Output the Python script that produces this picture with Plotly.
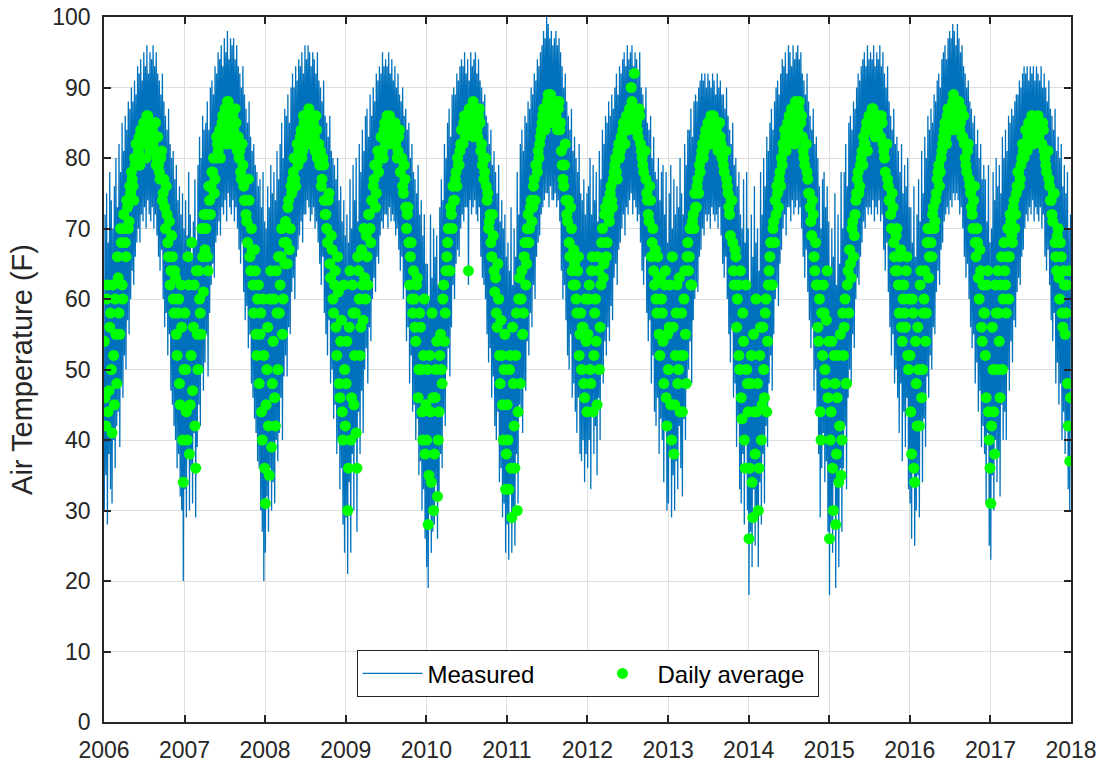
import pandas as pd
import plotly.graph_objects as go

# ---------------- data (readings estimated from the chart) ----------------
YEARS = list(range(2006, 2018))
YEAR_TICKS = [str(y) for y in range(2006, 2019)]

# daily-average temperature (F): two readings per week (set A and set B), 52 weeks per year
avg_2006 = [54, 42, 62, 47, 58, 41, 52, 60, 48, 63, 55, 68, 60, 70, 66, 73, 71,
            75, 77, 74, 79, 80, 81, 79, 83, 82, 84, 80, 86, 83, 85, 84, 81, 85, 80,
            79, 77, 81, 75, 73, 76, 68, 71, 64, 66, 58, 63, 52, 60, 45, 56, 34]
avg_2007 = [58, 44, 66, 38, 52, 47, 62, 36, 55, 64, 58, 70, 61, 67, 72, 64, 74,
            76, 78, 75, 80, 82, 83, 80, 85, 84, 87, 82, 88, 85, 84, 86, 83, 85, 81,
            80, 78, 82, 76, 74, 71, 77, 66, 70, 62, 67, 55, 60, 48, 58, 40, 52]
avg_2008 = [31, 50, 42, 60, 39, 54, 46, 64, 50, 58, 66, 55, 68, 71, 65, 74, 70,
            75, 78, 77, 80, 79, 82, 84, 81, 85, 83, 86, 87, 84, 82, 85, 81, 84, 80,
            79, 76, 80, 74, 72, 68, 75, 63, 67, 58, 64, 52, 61, 46, 57, 40, 50]
avg_2009 = [48, 30, 56, 40, 62, 45, 58, 36, 64, 52, 67, 57, 63, 69, 62, 72, 68,
            74, 77, 73, 79, 78, 81, 83, 80, 85, 84, 82, 86, 83, 85, 84, 82, 80, 83,
            78, 80, 75, 77, 70, 73, 62, 68, 58, 60, 54, 63, 50, 56, 44, 52, 38]
avg_2010 = [40, 28, 52, 34, 46, 38, 50, 32, 44, 55, 48, 62, 58, 66, 70, 64, 72,
            76, 74, 78, 80, 79, 82, 84, 85, 83, 86, 64, 87, 84, 88, 86, 85, 83, 87,
            81, 79, 77, 80, 74, 70, 72, 66, 69, 61, 58, 65, 52, 57, 45, 50, 33]
avg_2011 = [45, 33, 52, 29, 48, 36, 58, 44, 63, 60, 55, 66, 62, 70, 68, 73, 71,
            76, 74, 79, 81, 82, 84, 86, 85, 87, 88, 86, 89, 87, 86, 88, 85, 87, 84,
            81, 77, 79, 74, 71, 68, 73, 64, 67, 62, 58, 66, 55, 50, 56, 46, 54]
avg_2012 = [55, 62, 48, 66, 52, 60, 45, 64, 56, 68, 63, 72, 66, 74, 71, 76, 73,
            78, 80, 77, 82, 81, 83, 85, 82, 86, 84, 87, 90, 85, 92, 86, 84, 87, 82,
            80, 78, 81, 75, 72, 76, 66, 70, 62, 60, 66, 55, 63, 58, 48, 64, 42]
avg_2013 = [50, 62, 40, 56, 45, 58, 48, 63, 52, 44, 60, 55, 66, 64, 70, 62, 72,
            75, 73, 77, 79, 80, 82, 81, 84, 83, 85, 82, 84, 86, 83, 84, 81, 85, 82,
            80, 78, 81, 76, 73, 69, 74, 64, 67, 56, 62, 50, 46, 58, 40, 62, 48]
avg_2014 = [26, 48, 34, 55, 38, 44, 30, 52, 40, 56, 46, 60, 54, 64, 68, 62, 71,
            74, 76, 73, 78, 80, 82, 84, 81, 85, 86, 83, 87, 84, 88, 85, 87, 83, 86,
            81, 79, 82, 77, 75, 71, 74, 66, 68, 62, 54, 44, 58, 62, 50, 57, 46]
avg_2015 = [26, 44, 36, 52, 28, 46, 34, 55, 40, 52, 60, 48, 64, 67, 63, 71, 69,
            74, 77, 75, 79, 81, 83, 82, 85, 84, 86, 84, 87, 85, 86, 84, 86, 83, 85,
            81, 78, 82, 76, 74, 70, 73, 66, 69, 64, 58, 67, 54, 62, 56, 66, 50]
avg_2016 = [52, 38, 58, 34, 48, 56, 42, 64, 50, 60, 54, 68, 63, 70, 66, 73, 71,
            75, 78, 76, 80, 82, 84, 83, 86, 85, 87, 85, 89, 86, 88, 86, 84, 87, 83,
            82, 79, 81, 77, 75, 72, 74, 68, 70, 63, 67, 56, 62, 58, 46, 64, 40]
avg_2017 = [31, 56, 44, 62, 50, 58, 46, 66, 60, 64, 58, 70, 66, 71, 68, 74, 72,
            76, 78, 77, 80, 81, 82, 84, 83, 85, 84, 86, 83, 85, 84, 83, 85, 82, 84,
            80, 78, 81, 76, 74, 71, 75, 66, 69, 63, 68, 58, 64, 55, 62, 42, 37]

avgb_2006 = [46, 60, 44, 56, 50, 62, 45, 55, 66, 58, 70, 62, 72, 68, 74, 70, 76,
             78, 76, 80, 82, 79, 83, 84, 80, 85, 82, 86, 84, 81, 83, 82, 85, 79, 83,
             78, 80, 74, 77, 70, 72, 66, 62, 69, 60, 64, 55, 58, 48, 62, 40, 50]
avgb_2007 = [50, 40, 62, 45, 68, 56, 42, 64, 50, 60, 55, 66, 72, 70, 66, 76, 72,
             78, 80, 77, 83, 81, 84, 82, 86, 83, 85, 88, 83, 86, 82, 84, 87, 82, 83,
             81, 77, 79, 74, 72, 68, 74, 64, 67, 58, 64, 52, 62, 55, 44, 60, 36]
avgb_2008 = [45, 56, 35, 64, 48, 60, 42, 58, 66, 62, 70, 60, 65, 68, 73, 67, 76,
             77, 80, 76, 82, 81, 83, 80, 86, 84, 85, 82, 84, 86, 83, 83, 86, 80, 82,
             81, 77, 79, 72, 70, 74, 65, 69, 60, 62, 56, 66, 48, 54, 44, 62, 42]
avgb_2009 = [54, 36, 64, 46, 58, 52, 41, 66, 60, 56, 62, 70, 60, 66, 72, 70, 74,
             76, 79, 75, 81, 80, 83, 81, 84, 82, 86, 83, 85, 84, 82, 85, 83, 81, 84,
             80, 76, 79, 73, 72, 68, 66, 60, 64, 56, 62, 46, 58, 50, 40, 60, 45]
avgb_2010 = [50, 35, 44, 58, 30, 46, 54, 40, 52, 50, 60, 54, 64, 68, 64, 73, 70,
             74, 77, 76, 79, 81, 84, 82, 86, 85, 84, 87, 85, 86, 83, 87, 84, 86, 85,
             82, 80, 78, 76, 75, 71, 68, 72, 64, 63, 56, 60, 48, 52, 40, 55, 38]
avgb_2011 = [40, 50, 36, 56, 42, 52, 30, 60, 48, 64, 58, 68, 65, 72, 70, 74, 73,
             77, 79, 78, 80, 83, 85, 87, 84, 86, 89, 85, 88, 86, 87, 86, 84, 88, 85,
             79, 76, 82, 72, 74, 66, 70, 62, 65, 60, 64, 52, 58, 56, 48, 60, 44]
avgb_2012 = [60, 50, 64, 44, 58, 54, 66, 50, 62, 70, 65, 73, 68, 72, 75, 74, 77,
             79, 78, 81, 80, 83, 84, 82, 85, 84, 86, 85, 88, 86, 84, 85, 83, 86, 81,
             79, 81, 77, 74, 71, 74, 68, 64, 67, 58, 63, 52, 60, 54, 62, 46, 55]
avgb_2013 = [56, 45, 66, 38, 52, 62, 50, 44, 58, 52, 64, 48, 68, 66, 62, 71, 70,
             73, 76, 75, 78, 81, 80, 83, 82, 85, 83, 86, 84, 82, 85, 82, 85, 83, 80,
             79, 81, 77, 75, 72, 74, 68, 62, 66, 60, 52, 64, 43, 54, 36, 50, 44]
avgb_2014 = [36, 52, 29, 44, 60, 48, 36, 56, 45, 50, 58, 44, 62, 66, 62, 70, 68,
             72, 75, 77, 76, 79, 81, 83, 82, 84, 84, 87, 85, 82, 86, 84, 88, 85, 83,
             80, 82, 78, 75, 73, 69, 72, 64, 62, 56, 60, 40, 52, 58, 48, 64, 54]
avgb_2015 = [40, 54, 30, 48, 38, 52, 42, 35, 58, 56, 48, 62, 58, 65, 70, 66, 72,
             75, 78, 76, 80, 79, 82, 84, 81, 86, 84, 87, 85, 83, 86, 85, 83, 86, 82,
             80, 82, 77, 74, 72, 75, 68, 64, 70, 62, 66, 56, 60, 58, 64, 52, 60]
avgb_2016 = [44, 60, 36, 54, 42, 50, 62, 46, 58, 64, 58, 70, 66, 68, 72, 70, 74,
             77, 79, 78, 81, 83, 85, 82, 87, 84, 86, 88, 84, 87, 85, 88, 85, 83, 86,
             80, 78, 82, 76, 73, 70, 76, 66, 68, 60, 64, 54, 58, 52, 62, 44, 36]
avgb_2017 = [42, 50, 38, 58, 64, 54, 62, 50, 68, 62, 66, 60, 72, 69, 73, 70, 75,
             78, 76, 79, 82, 80, 84, 81, 85, 83, 86, 82, 85, 83, 86, 84, 82, 85, 81,
             79, 81, 77, 74, 72, 75, 68, 64, 70, 60, 66, 56, 62, 58, 48, 64, 46]

# measured (hourly) temperature: weekly high and low readings (F)
hi_2006 = [72, 75, 68, 78, 74, 70, 76, 80, 73, 82, 78, 85, 81, 86, 84, 88, 87,
           90, 88, 91, 89, 93, 92, 94, 91, 95, 93, 96, 92, 95, 94, 96, 93, 95, 92,
           91, 89, 92, 88, 86, 84, 87, 82, 80, 81, 77, 79, 74, 76, 72, 75, 70]
lo_2006 = [30, 35, 28, 38, 33, 31, 40, 36, 42, 44, 39, 48, 46, 52, 50, 57, 55,
           60, 64, 62, 66, 68, 70, 68, 72, 71, 73, 70, 74, 72, 71, 73, 70, 72, 69,
           66, 64, 67, 60, 56, 58, 52, 55, 47, 45, 42, 40, 36, 38, 32, 30, 20]
hi_2007 = [74, 69, 78, 72, 66, 71, 77, 68, 79, 83, 80, 86, 84, 85, 88, 84, 90,
           91, 89, 93, 92, 95, 94, 96, 93, 97, 95, 98, 94, 97, 96, 97, 94, 96, 93,
           92, 90, 93, 89, 87, 85, 88, 83, 81, 82, 79, 78, 76, 77, 73, 78, 71]
lo_2007 = [33, 29, 38, 30, 36, 31, 41, 29, 39, 45, 42, 50, 47, 51, 55, 49, 58,
           62, 65, 63, 68, 69, 71, 69, 73, 72, 74, 71, 75, 73, 72, 74, 71, 73, 70,
           67, 65, 68, 61, 57, 59, 53, 55, 48, 46, 43, 41, 37, 36, 30, 27, 20]
hi_2008 = [70, 76, 73, 79, 75, 78, 74, 81, 77, 82, 85, 80, 87, 86, 89, 85, 90,
           92, 90, 93, 91, 94, 93, 95, 92, 96, 94, 96, 95, 93, 95, 94, 92, 95, 91,
           90, 88, 91, 86, 85, 83, 86, 81, 80, 79, 77, 80, 74, 76, 71, 74, 69]
lo_2008 = [24, 32, 27, 36, 30, 34, 31, 40, 37, 41, 46, 40, 49, 52, 49, 56, 55,
           61, 63, 60, 66, 67, 69, 71, 68, 72, 72, 74, 73, 71, 72, 73, 70, 71, 68,
           65, 62, 66, 58, 55, 52, 57, 48, 50, 43, 45, 38, 40, 33, 36, 28, 24]
hi_2009 = [72, 68, 77, 70, 79, 74, 80, 71, 82, 78, 84, 81, 86, 87, 83, 89, 86,
           90, 88, 92, 91, 93, 92, 95, 93, 94, 93, 95, 92, 94, 91, 93, 90, 92, 89,
           88, 90, 86, 87, 84, 85, 80, 82, 78, 77, 75, 79, 72, 74, 69, 72, 65]
lo_2009 = [29, 21, 34, 24, 38, 30, 40, 27, 44, 38, 47, 41, 50, 53, 48, 56, 54,
           60, 63, 61, 66, 65, 69, 71, 70, 72, 72, 70, 73, 71, 72, 71, 69, 70, 67,
           64, 66, 60, 62, 54, 56, 48, 52, 44, 45, 40, 43, 35, 37, 30, 33, 26]
hi_2010 = [65, 60, 72, 63, 70, 66, 69, 62, 73, 77, 74, 82, 80, 85, 87, 83, 89,
           90, 89, 92, 91, 93, 94, 93, 95, 92, 94, 91, 95, 93, 94, 95, 92, 94, 91,
           90, 88, 89, 86, 85, 82, 84, 79, 81, 78, 75, 79, 71, 74, 70, 72, 66]
lo_2010 = [22, 19, 30, 24, 27, 28, 34, 26, 32, 38, 36, 44, 42, 50, 53, 49, 56,
           62, 60, 65, 67, 66, 70, 72, 71, 73, 73, 62, 74, 72, 73, 74, 72, 71, 73,
           66, 63, 62, 60, 55, 51, 53, 46, 49, 42, 40, 44, 34, 36, 29, 31, 24]
hi_2011 = [68, 64, 73, 62, 70, 66, 78, 72, 82, 84, 81, 86, 85, 88, 87, 90, 89,
           92, 91, 94, 93, 95, 96, 98, 97, 100, 99, 97, 98, 96, 97, 98, 96, 97, 95,
           93, 90, 92, 88, 86, 84, 87, 81, 83, 80, 78, 82, 75, 74, 77, 72, 75]
lo_2011 = [28, 23, 33, 24, 30, 25, 38, 31, 45, 44, 41, 48, 47, 54, 52, 58, 56,
           62, 60, 66, 68, 69, 72, 73, 74, 75, 75, 73, 76, 74, 74, 75, 73, 74, 71,
           64, 60, 62, 57, 52, 50, 55, 46, 48, 44, 41, 46, 38, 37, 40, 34, 38]
hi_2012 = [76, 80, 72, 79, 74, 78, 71, 81, 77, 84, 82, 86, 85, 88, 86, 89, 87,
           90, 92, 89, 93, 92, 94, 95, 93, 96, 94, 95, 96, 93, 95, 94, 92, 95, 90,
           89, 87, 90, 85, 84, 86, 80, 83, 78, 77, 80, 74, 78, 79, 72, 78, 68]
lo_2012 = [36, 40, 33, 44, 38, 42, 35, 46, 40, 50, 48, 54, 52, 56, 54, 59, 57,
           63, 65, 62, 67, 68, 70, 72, 69, 73, 72, 74, 75, 72, 74, 73, 71, 72, 68,
           64, 62, 66, 58, 54, 57, 48, 52, 44, 42, 46, 38, 43, 40, 34, 42, 30]
hi_2013 = [75, 79, 70, 77, 72, 76, 73, 80, 75, 72, 82, 79, 84, 84, 87, 83, 88,
           89, 88, 90, 91, 92, 91, 92, 90, 92, 91, 90, 92, 91, 89, 92, 90, 91, 89,
           89, 87, 90, 86, 84, 82, 85, 79, 80, 76, 78, 72, 70, 77, 68, 78, 70]
lo_2013 = [31, 38, 29, 35, 30, 37, 33, 42, 36, 32, 43, 40, 48, 50, 54, 48, 57,
           60, 62, 61, 66, 67, 70, 69, 72, 71, 72, 70, 73, 72, 71, 72, 70, 73, 69,
           65, 63, 66, 60, 55, 51, 56, 46, 48, 39, 43, 33, 31, 38, 28, 40, 30]
hi_2014 = [62, 72, 66, 76, 68, 70, 64, 78, 72, 80, 76, 83, 81, 85, 87, 84, 88,
           90, 91, 89, 92, 94, 93, 95, 92, 96, 95, 93, 96, 94, 95, 96, 94, 95, 92,
           91, 89, 92, 88, 86, 84, 87, 82, 83, 80, 76, 70, 77, 78, 73, 76, 71]
lo_2014 = [18, 27, 22, 33, 25, 29, 22, 34, 28, 38, 31, 42, 39, 48, 52, 47, 55,
           60, 62, 59, 65, 67, 70, 72, 69, 73, 73, 71, 74, 72, 73, 74, 72, 73, 70,
           66, 63, 67, 61, 57, 53, 56, 47, 50, 44, 38, 29, 36, 41, 34, 37, 27]
hi_2015 = [64, 70, 66, 75, 62, 72, 65, 78, 70, 78, 82, 76, 85, 86, 84, 88, 87,
           90, 92, 91, 93, 94, 95, 93, 96, 94, 95, 94, 96, 93, 95, 94, 96, 93, 95,
           92, 90, 93, 88, 86, 84, 87, 82, 83, 81, 78, 82, 75, 79, 76, 80, 73]
lo_2015 = [18, 28, 24, 34, 19, 30, 22, 36, 27, 36, 42, 33, 46, 50, 48, 55, 53,
           60, 63, 62, 66, 68, 71, 70, 73, 72, 73, 72, 74, 71, 73, 72, 74, 71, 72,
           67, 64, 68, 61, 56, 52, 55, 48, 50, 46, 41, 48, 37, 44, 39, 46, 33]
hi_2016 = [73, 68, 76, 66, 72, 77, 71, 81, 75, 83, 80, 86, 84, 87, 85, 89, 88,
           91, 92, 90, 94, 95, 96, 94, 97, 98, 97, 99, 98, 96, 99, 97, 95, 96, 93,
           92, 90, 91, 88, 87, 85, 86, 82, 84, 80, 82, 77, 79, 77, 71, 79, 68]
lo_2016 = [31, 26, 36, 25, 30, 35, 29, 42, 34, 43, 39, 49, 46, 52, 50, 56, 55,
           61, 64, 62, 67, 68, 71, 72, 73, 72, 74, 73, 75, 74, 75, 74, 72, 73, 70,
           66, 63, 65, 60, 56, 53, 55, 48, 51, 44, 47, 39, 42, 38, 31, 41, 25]
hi_2017 = [70, 78, 74, 80, 76, 79, 75, 83, 80, 84, 81, 86, 85, 87, 86, 88, 89,
           89, 91, 90, 92, 93, 92, 93, 91, 93, 92, 93, 91, 93, 92, 91, 93, 90, 92,
           90, 88, 91, 87, 86, 84, 87, 81, 83, 80, 82, 76, 79, 75, 78, 70, 72]
lo_2017 = [23, 35, 30, 40, 34, 38, 32, 45, 40, 44, 40, 50, 47, 54, 51, 57, 56,
           61, 63, 62, 66, 67, 70, 72, 71, 73, 72, 74, 71, 73, 72, 71, 73, 70, 72,
           66, 64, 67, 62, 57, 54, 58, 48, 51, 45, 48, 40, 44, 38, 42, 33, 30]

daily_avg_a = dict(zip(YEARS, [avg_2006, avg_2007, avg_2008, avg_2009, avg_2010, avg_2011,
                               avg_2012, avg_2013, avg_2014, avg_2015, avg_2016, avg_2017]))
daily_avg_b = dict(zip(YEARS, [avgb_2006, avgb_2007, avgb_2008, avgb_2009, avgb_2010, avgb_2011,
                               avgb_2012, avgb_2013, avgb_2014, avgb_2015, avgb_2016, avgb_2017]))
meas_hi = dict(zip(YEARS, [hi_2006, hi_2007, hi_2008, hi_2009, hi_2010, hi_2011,
                           hi_2012, hi_2013, hi_2014, hi_2015, hi_2016, hi_2017]))
meas_lo = dict(zip(YEARS, [lo_2006, lo_2007, lo_2008, lo_2009, lo_2010, lo_2011,
                           lo_2012, lo_2013, lo_2014, lo_2015, lo_2016, lo_2017]))

# ---------------- build series on a date axis ----------------
avg_x, avg_y, meas_x, meas_y = [], [], [], []
for yr in YEARS:
    start = pd.Timestamp(f"{yr}-01-01")
    ndays = (pd.Timestamp(f"{yr + 1}-01-01") - start).days
    a, b = daily_avg_a[yr], daily_avg_b[yr]
    h, l = meas_hi[yr], meas_lo[yr]
    n = len(a)
    step = ndays / n
    for i in range(n):
        avg_x.append(start + pd.Timedelta(days=(i + 0.2) * step))
        avg_y.append(a[i])
        avg_x.append(start + pd.Timedelta(days=(i + 0.7) * step))
        avg_y.append(b[i])
        meas_x.append(start + pd.Timedelta(days=(i + 0.2) * step))
        meas_y.append(l[i])
        meas_x.append(start + pd.Timedelta(days=(i + 0.7) * step))
        meas_y.append(h[i])

FONT = "Arial, Liberation Sans, Helvetica, sans-serif"
DARK = "#262626"
GRID = "#dedede"

fig = go.Figure()
fig.add_trace(go.Scatter(x=meas_x, y=meas_y, mode="lines", name="Measured",
                         line=dict(color="#0072BD", width=1.3)))
fig.add_trace(go.Scatter(x=avg_x, y=avg_y, mode="markers", name="Daily average",
                         marker=dict(color="#00FF00", size=11, line=dict(width=0))))

fig.update_layout(
    width=1107, height=767,
    margin=dict(l=104, r=36, t=17, b=45),
    paper_bgcolor="white", plot_bgcolor="white",
    font=dict(family=FONT, size=23, color=DARK),
    showlegend=True,
    legend=dict(orientation="h", x=0.5, xanchor="center", y=0.035, yanchor="bottom",
                bgcolor="white", bordercolor=DARK, borderwidth=1,
                font=dict(family=FONT, size=24, color="#000000"),
                itemwidth=60, entrywidth=155),
)
fig.update_xaxes(
    type="date", range=["2006-01-01", "2018-01-01"],
    tickvals=[pd.Timestamp(f"{t}-01-01") for t in YEAR_TICKS], ticktext=YEAR_TICKS,
    showgrid=True, gridcolor=GRID, gridwidth=1,
    showline=True, linecolor=DARK, linewidth=1.5, mirror="ticks",
    ticks="inside", ticklen=7, tickcolor=DARK, tickwidth=1.5,
    tickfont=dict(family=FONT, size=23, color=DARK), zeroline=False,
    ticklabelstandoff=7, automargin=False,
)
fig.update_yaxes(
    range=[0, 100], tickvals=list(range(0, 101, 10)),
    showgrid=True, gridcolor=GRID, gridwidth=1,
    showline=True, linecolor=DARK, linewidth=1.5, mirror="ticks",
    ticks="inside", ticklen=7, tickcolor=DARK, tickwidth=1.5,
    tickfont=dict(family=FONT, size=23, color=DARK), zeroline=False,
    ticklabelstandoff=7, automargin=False,
    title=dict(text="Air Temperature (F)", font=dict(family=FONT, size=29, color=DARK),
               standoff=11),
)

fig.write_html("out.html")
